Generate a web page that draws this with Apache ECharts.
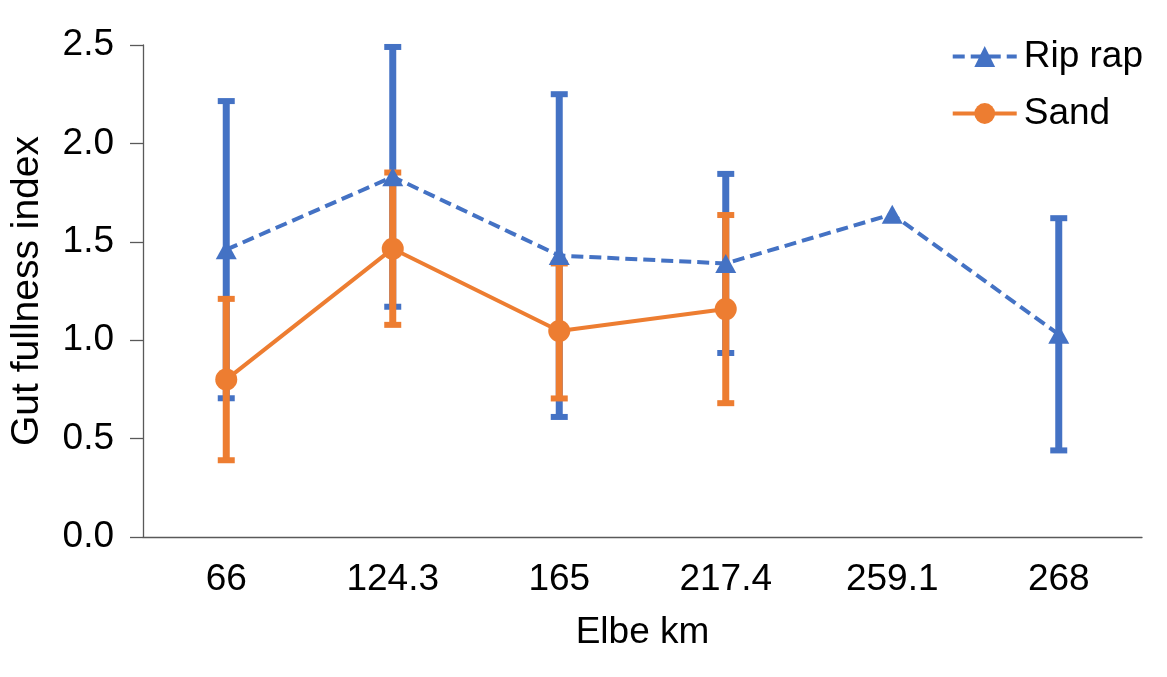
<!DOCTYPE html>
<html>
<head>
<meta charset="utf-8">
<script src="https://cdn.jsdelivr.net/npm/echarts@6/dist/echarts.min.js"></script>
<style>
html,body{margin:0;padding:0;background:#fff;}
#chart{width:1167px;height:677px;}
</style>
</head>
<body>
<div id="chart"></div>
<script>
const categories = ['66', '124.3', '165', '217.4', '259.1', '268'];
const ripRapMean = [1.46, 1.83, 1.43, 1.39, 1.64, 1.03];
const ripRapErr  = [0.755, 0.66, 0.82, 0.455, null, 0.59];
const sandMean   = [0.80, 1.465, 1.047, 1.158, null, null];
const sandErr    = [0.41, 0.387, 0.343, 0.478, null, null];
const yTicks = [0, 0.5, 1.0, 1.5, 2.0, 2.5];

const BLUE = '#4472C4', ORANGE = '#ED7D31';
const FONT = 'Liberation Sans, Arial, sans-serif';

function errData(mean, err) {
  const out = [];
  mean.forEach((m, i) => {
    if (m != null && err[i] != null) out.push([i, m - err[i], m + err[i]]);
  });
  return out;
}

function errRender(color) {
  return function (params, api) {
    const x = api.value(0);
    const lo = api.coord([x, api.value(1)]);
    const hi = api.coord([x, api.value(2)]);
    const cw = 8.5;
    const st = { stroke: color, lineWidth: 7, lineCap: 'butt' };
    const cst = { stroke: color, lineWidth: 6, lineCap: 'butt' };
    return {
      type: 'group',
      children: [
        { type: 'line', shape: { x1: lo[0], y1: lo[1], x2: hi[0], y2: hi[1] }, style: st },
        { type: 'line', shape: { x1: hi[0] - cw, y1: hi[1], x2: hi[0] + cw, y2: hi[1] }, style: cst },
        { type: 'line', shape: { x1: lo[0] - cw, y1: lo[1], x2: lo[0] + cw, y2: lo[1] }, style: cst }
      ]
    };
  };
}

const chart = echarts.init(document.getElementById('chart'));
chart.setOption({
  animation: false,
  backgroundColor: '#fff',
  textStyle: { fontFamily: FONT },
  grid: { left: 143, right: 25, top: 45, bottom: 140 },
  legend: {
    orient: 'vertical',
    right: 19,
    top: 33,
    itemWidth: 64,
    itemHeight: 26,
    itemGap: 20,
    lineStyle: { width: 4 },
    data: ['Rip rap', 'Sand'],
    textStyle: { fontFamily: FONT, fontSize: 37, color: '#000', padding: [0, 0, 0, 2] }
  },
  xAxis: {
    type: 'category',
    data: categories,
    boundaryGap: true,
    name: 'Elbe km',
    nameLocation: 'middle',
    nameGap: 77,
    nameTextStyle: { fontFamily: FONT, fontSize: 37, color: '#000' },
    axisLine: { lineStyle: { color: '#595959', width: 1.3 } },
    axisTick: { alignWithLabel: true, length: 9, lineStyle: { color: '#595959', width: 1.3 } },
    axisLabel: { fontFamily: FONT, fontSize: 37, color: '#000', margin: 24 },
    splitLine: { show: false }
  },
  yAxis: {
    type: 'value',
    min: 0,
    max: 2.5,
    interval: 0.5,
    name: 'Gut fullness index',
    nameLocation: 'middle',
    nameGap: 96,
    nameTextStyle: { fontFamily: FONT, fontSize: 39, color: '#000' },
    axisLine: { show: true, lineStyle: { color: '#595959', width: 1.3 } },
    axisTick: { show: true, length: 13, lineStyle: { color: '#595959', width: 1.3 } },
    axisLabel: {
      fontFamily: FONT, fontSize: 37, color: '#000', margin: 29,
      formatter: v => (yTicks.includes(v) ? v.toFixed(1) : '')
    },
    splitLine: { show: false }
  },
  series: [
    {
      name: 'Rip rap err',
      type: 'custom',
      renderItem: errRender(BLUE),
      data: errData(ripRapMean, ripRapErr),
      z: 1,
      silent: true
    },
    {
      name: 'Sand err',
      type: 'custom',
      renderItem: errRender(ORANGE),
      data: errData(sandMean, sandErr),
      z: 2,
      silent: true
    },
    {
      name: 'Rip rap',
      type: 'line',
      data: ripRapMean,
      symbol: 'triangle',
      symbolSize: [21, 19],
      itemStyle: { color: BLUE },
      lineStyle: { color: BLUE, width: 4, type: [12, 6] },
      z: 3
    },
    {
      name: 'Sand',
      type: 'line',
      data: sandMean,
      symbol: 'circle',
      symbolSize: 22,
      itemStyle: { color: ORANGE },
      lineStyle: { color: ORANGE, width: 4 },
      z: 4
    }
  ]
});
</script>
</body>
</html>
